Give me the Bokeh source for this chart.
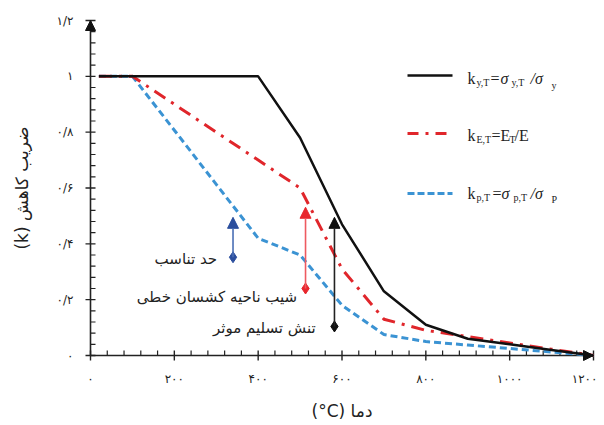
import math
from bokeh.plotting import figure
from bokeh.models import Range1d, Arrow, NormalHead
from bokeh.core.properties import value
from bokeh.embed import file_html
from bokeh.resources import INLINE

# ---------------- data ----------------
temps = [20, 100, 200, 300, 400, 500, 600, 700, 800, 900, 1000, 1100, 1200]
k_y = [1.0, 1.0, 1.0, 1.0, 1.0, 0.78, 0.47, 0.23, 0.11, 0.06, 0.04, 0.02, 0.0]
k_E = [1.0, 1.0, 0.9, 0.8, 0.7, 0.6, 0.31, 0.13, 0.09, 0.0675, 0.045, 0.0225, 0.0]
k_p = [1.0, 1.0, 0.807, 0.613, 0.42, 0.36, 0.18, 0.075, 0.05, 0.0375, 0.025, 0.0125, 0.0]

x_ticks = [0, 200, 400, 600, 800, 1000, 1200]
x_tick_labels = ["۰", "۲۰۰", "۴۰۰", "۶۰۰", "۸۰۰", "۱۰۰۰", "۱۲۰۰"]
y_ticks = [0, 0.2, 0.4, 0.6, 0.8, 1.0, 1.2]
y_tick_labels = ["۰", "۰/۲", "۰/۴", "۰/۶", "۰/۸", "۱", "۱/۲"]
x_minor = [40 * i for i in range(31) if i % 5]
y_minor = [round(0.04 * i, 2) for i in range(31) if i % 5]

x_title = "\u202bدما (\u200e°C)\u202c"
y_title = "\u202bضریب کاهش (k)\u202c"

# annotation arrows (temperature, start k, end k)
arrow_temp = [340, 513, 582]
arrow_from = [0.352, 0.240, 0.104]
arrow_to = [0.495, 0.531, 0.495]
arrow_colors = ["#2c4f9e", "#e8262d", "#111111"]
arrow_line_colors = ["#4a6fb5", "#ee5a60", "#222222"]

# annotation labels
label_texts = ["حد تناسب", "شیب ناحیه کشسان خطی", "تنش تسلیم موثر"]
label_temp = [302, 493, 537]
label_k = [0.347, 0.209, 0.100]

BLACK = "#111111"
RED = "#e0262b"
BLUE = "#3b93d3"
AXIS = "#222222"

# ---------------- figure ----------------
# plot area: k=0 at y-pixel 355, k=1.2 at 20; T=0 at x-pixel 90, T=1200 at 593
L, R, T, B = 90, 593, 20, 355
W, H = 604, 425
XMAX, YMAX = 1200, 1.2
UX = XMAX / (R - L)   # data units per pixel (x)
UY = YMAX / (B - T)   # data units per pixel (y)


def dx(px):
    return (px - L) * UX


def dy(py):
    return (B - py) * UY


p = figure(width=W, height=H, x_range=Range1d(dx(0), dx(W)), y_range=Range1d(dy(H), dy(0)),
           output_backend="svg", toolbar_location=None,
           x_axis_location=None, y_axis_location=None,
           min_border_left=0, min_border_right=0, min_border_top=0, min_border_bottom=0)
p.outline_line_color = None
p.grid.visible = False

# ---------------- axes (drawn through the data scales) ----------------
p.segment(x0=[0, 0], y0=[0, 0], x1=[0, XMAX], y1=[YMAX, 0], line_color=AXIS, line_width=1.6)
# major ticks crossing the axis lines
p.segment(x0=[-5 * UX] * len(y_ticks), y0=y_ticks, x1=[5 * UX] * len(y_ticks), y1=y_ticks,
          line_color=AXIS, line_width=1.4)
p.segment(x0=x_ticks, y0=[-5 * UY] * len(x_ticks), x1=x_ticks, y1=[5 * UY] * len(x_ticks),
          line_color=AXIS, line_width=1.4)
# minor ticks on the inner side
p.segment(x0=[0] * len(y_minor), y0=y_minor, x1=[5 * UX] * len(y_minor), y1=y_minor,
          line_color=AXIS, line_width=1.2)
p.segment(x0=x_minor, y0=[0] * len(x_minor), x1=x_minor, y1=[5 * UY] * len(x_minor),
          line_color=AXIS, line_width=1.2)
# tick labels
p.text([-17 * UX] * len(y_ticks), y_ticks, text=y_tick_labels, text_align="right",
       text_baseline="middle", text_font=value("DejaVu Sans"), text_font_size="12px", text_color=AXIS)
p.text(x_ticks[:-1], [-23 * UY] * (len(x_ticks) - 1), text=x_tick_labels[:-1], text_align="center",
       text_baseline="middle", text_font=value("DejaVu Sans"), text_font_size="12px", text_color=AXIS)
# last x label kept inside the picture (right-aligned just past its tick)
p.text([x_ticks[-1] + 4 * UX], [-23 * UY], text=[x_tick_labels[-1]], text_align="right",
       text_baseline="middle", text_font=value("DejaVu Sans"), text_font_size="12px", text_color=AXIS)
# axis titles
p.text([XMAX / 2], [dy(410)], text=[x_title], text_align="center", text_baseline="middle",
       text_font=value("DejaVu Sans"), text_font_size="17px", text_color=AXIS)
p.text([dx(21)], [YMAX / 2], text=[y_title], angle=math.pi / 2, text_align="center",
       text_baseline="middle", text_font=value("DejaVu Sans"), text_font_size="17px", text_color=AXIS)
# axis arrowheads
p.add_layout(Arrow(end=NormalHead(size=10, fill_color=BLACK, line_color=BLACK),
                   x_start=0, y_start=YMAX * 0.95, x_end=0, y_end=YMAX, line_width=0))
p.add_layout(Arrow(end=NormalHead(size=10, fill_color=BLACK, line_color=BLACK),
                   x_start=XMAX * 0.97, y_start=0, x_end=XMAX, y_end=0, line_width=0))

# ---------------- curves ----------------
p.line(temps, k_p, line_color=BLUE, line_width=3, line_dash="7 4")
p.line(temps, k_E, line_color=RED, line_width=3, line_dash="13 7 3 7")
p.line(temps, k_y, line_color=BLACK, line_width=2.5)

# ---------------- annotation arrows ----------------
for t, a, b, c, lc in zip(arrow_temp, arrow_from, arrow_to, arrow_colors, arrow_line_colors):
    p.add_layout(Arrow(end=NormalHead(size=11, fill_color=c, line_color=c),
                       x_start=t, y_start=a, x_end=t, y_end=b,
                       line_color=lc, line_width=1.6))
p.scatter(arrow_temp, arrow_from, marker="diamond", size=11,
          fill_color=arrow_colors, line_color=arrow_colors)

p.text(label_temp, label_k, text=label_texts, text_align="right", text_baseline="middle",
       text_font=value("DejaVu Sans"), text_font_size="15px", text_color=AXIS)

# ---------------- legend ----------------
p.line([dx(407), dx(452)], [dy(75), dy(75)], line_color=BLACK, line_width=2.5)
p.line([dx(407), dx(449)], [dy(133), dy(133)], line_color=RED, line_width=3, line_dash="11 7 3 7")
p.line([dx(407), dx(452)], [dy(193), dy(193)], line_color=BLUE, line_width=3, line_dash="7 3")

main_runs = [("k", 467, 78), ("=", 490, 78),
             ("k", 467, 135), ("=E", 491, 135), ("/E", 514, 135),
             ("k", 467, 193), ("=", 492, 193)]
ital_runs = [("σ", 500, 78), ("/σ", 530, 78),
             ("σ", 501, 193), ("/σ", 530, 193)]
sub_runs = [("y,T", 476, 82), ("y,T", 511, 82), ("y", 551, 85),
            ("E,T", 476, 139), ("T", 509, 139),
            ("p,T", 476, 197), ("p,T", 513, 197), ("P", 551, 199)]

for runs, size, style in ((main_runs, "16px", "normal"), (ital_runs, "16px", "italic"),
                          (sub_runs, "10px", "normal")):
    p.text([dx(r[1]) for r in runs], [dy(r[2]) for r in runs], text=[r[0] for r in runs],
           text_align="left", text_baseline="alphabetic",
           text_font=value("Liberation Serif"), text_font_size=size,
           text_font_style=style, text_color=AXIS)

open("out.html", "w").write(file_html(p, INLINE))
